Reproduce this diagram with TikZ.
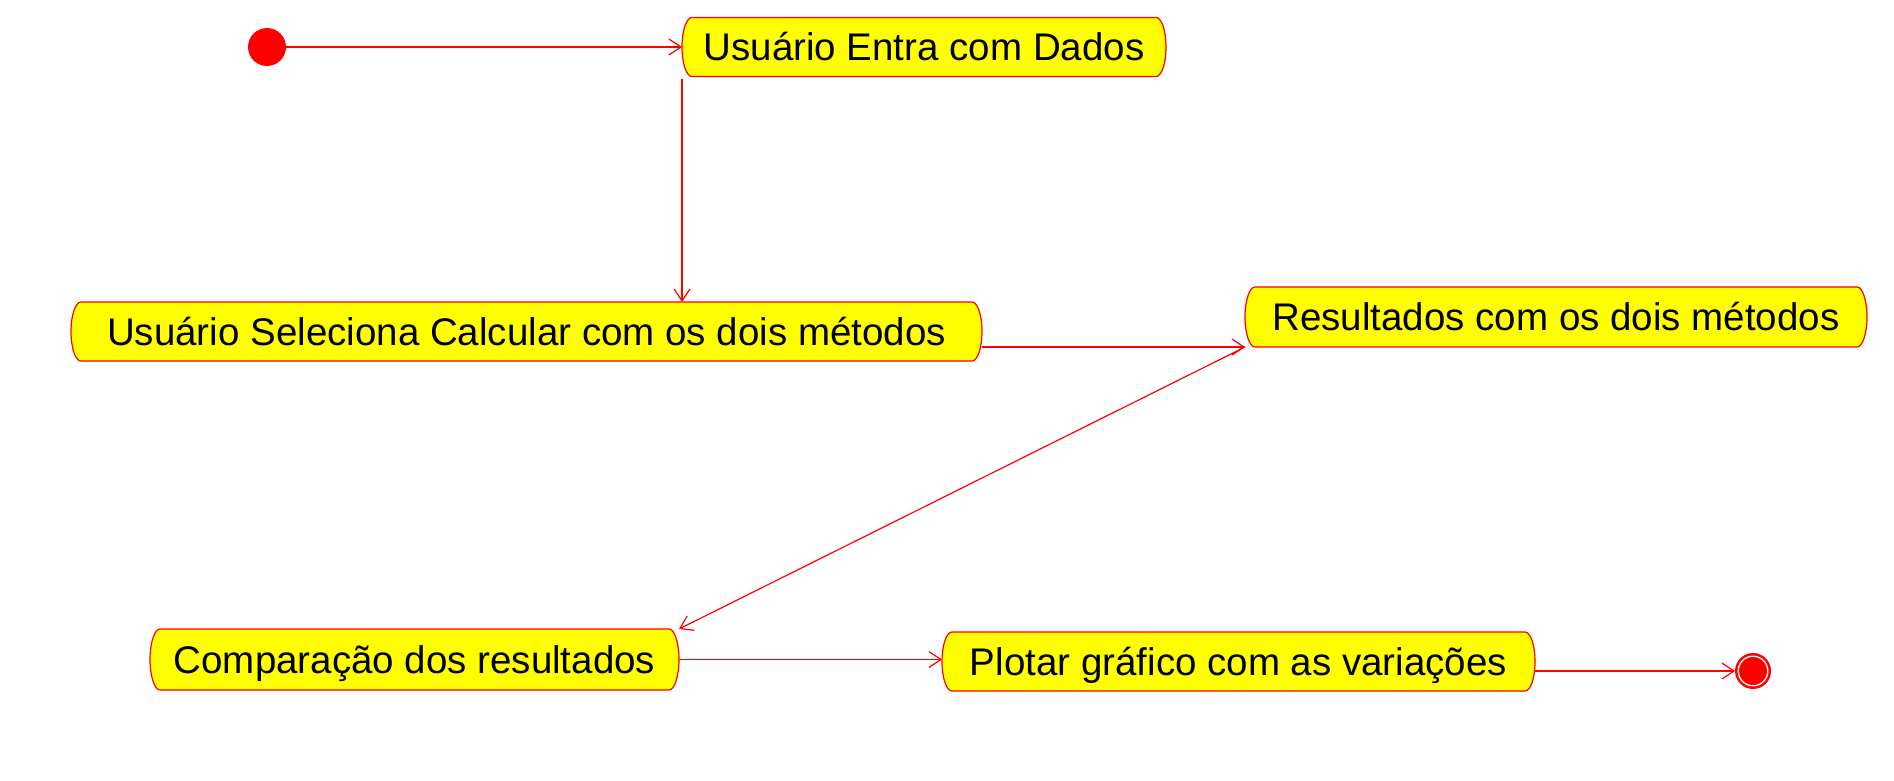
\documentclass[tikz,border=0pt]{standalone}
\usepackage{fontspec}
\setmainfont{Liberation Sans}
\usetikzlibrary{arrows.meta,calc,backgrounds}
\definecolor{boxyellow}{RGB}{255,255,0}
\definecolor{umlred}{RGB}{255,0,0}
\tikzset{
  statebox/.style={inner sep=0pt, outer sep=0pt, minimum height=59pt,
    font=\fontsize{38.5pt}{46pt}\selectfont, text height=27.6pt, text depth=0pt},
  boxshape/.style={draw=umlred, fill=boxyellow, line width=1.2pt},
  flow/.style={draw=umlred, line width=1.2pt, -{Straight Barb[length=12pt,width=16pt,line width=1.2pt]}},
  startdot/.style={circle, fill=umlred, draw=none, minimum size=38pt, inner sep=0pt, outer sep=0pt},
  enddot/.style={circle, fill=umlred, draw=umlred, line width=2pt, minimum size=34pt, inner sep=0pt, outer sep=1pt}
}
\begin{document}
\begin{tikzpicture}[x=1pt,y=-1pt]
\useasboundingbox (0,0) rectangle (1894,780);
\node[startdot] (start) at (267,47) {};
\node[statebox, minimum width=484pt] (a) at (924,47) {Usuário Entra com Dados};
\node[statebox, minimum width=911pt] (b) at (526.5,331.5) {Usuário Seleciona Calcular com os dois métodos};
\node[statebox, minimum width=622pt, minimum height=60pt] (c) at (1556,317) {Resultados com os dois métodos};
\node[statebox, minimum width=529pt, minimum height=61pt] (d) at (414.5,659.5) {Comparação dos resultados};
\node[statebox, minimum width=593pt] (e) at (1238.5,661.5) {Plotar gráfico com as variações};
\node[enddot] (end) at (1753,671) {};
\draw[white, line width=1.3pt] (end.center) circle[radius=14.8pt];
\begin{scope}[on background layer]
\foreach \n in {a,b,c,d,e} {
  \path[boxshape]
    ($(\n.north west)+(10,0)$) -- ($(\n.north east)+(-10,0)$)
    .. controls ($(\n.north east)+(-4.5,0)$) and ($(\n.east)+(0,-16.5)$) .. (\n.east)
    .. controls ($(\n.east)+(0,16.5)$) and ($(\n.south east)+(-4.5,0)$) .. ($(\n.south east)+(-10,0)$)
    -- ($(\n.south west)+(10,0)$)
    .. controls ($(\n.south west)+(4.5,0)$) and ($(\n.west)+(0,16.5)$) .. (\n.west)
    .. controls ($(\n.west)+(0,-16.5)$) and ($(\n.north west)+(4.5,0)$) .. ($(\n.north west)+(10,0)$) -- cycle;
}
\end{scope}
\draw[flow] (start) -- (a.west);
\draw[flow] ($(a.south west)+(0,2)$) -- (a.south west |- b.north);
\draw[flow] (c.south west -| b.east) -- (c.south west);
\draw[flow] (c.south west) -- (d.north east);
\draw[flow] (d.east) -- (e.west |- d.east);
\draw[flow] (e.east |- end) -- (end.west);
\end{tikzpicture}
\end{document}
